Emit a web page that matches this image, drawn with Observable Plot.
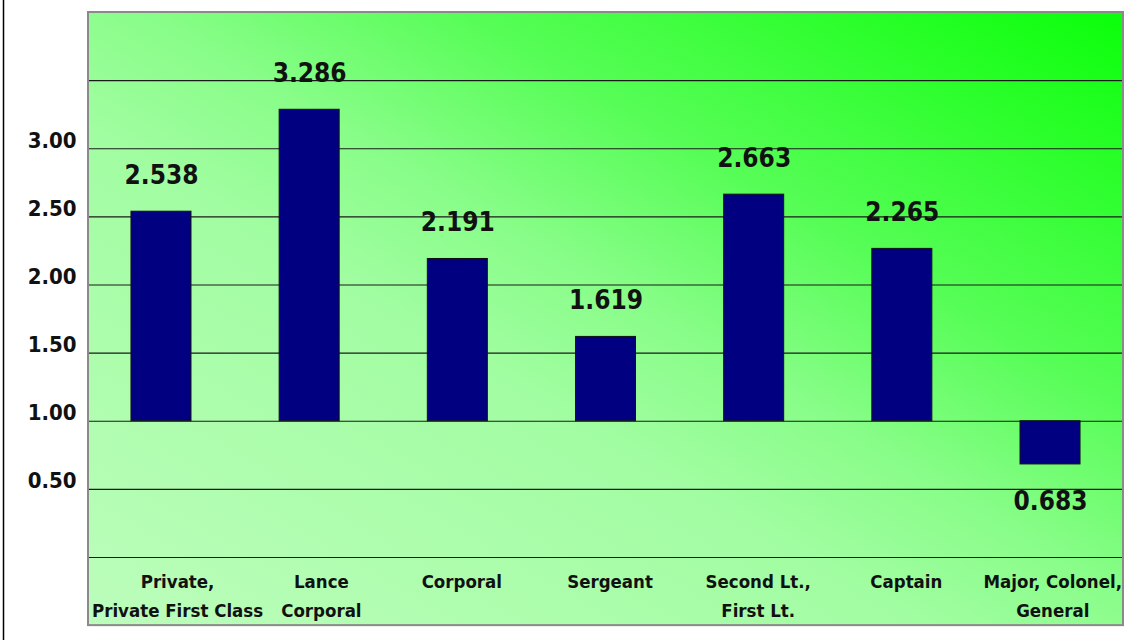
<!DOCTYPE html>
<html>
<head>
<meta charset="utf-8">
<script src="https://cdn.jsdelivr.net/npm/d3@7"></script>
<script src="https://cdn.jsdelivr.net/npm/@observablehq/plot@0.6"></script>
<style>
  html, body { margin: 0; padding: 0; background: #fff; }
  #chart svg { display: block; background: transparent; }
</style>
</head>
<body>
<div id="chart"></div>
<script>
const categories = [
  "Private,\nPrivate First Class",
  "Lance\nCorporal",
  "Corporal",
  "Sergeant",
  "Second Lt.,\nFirst Lt.",
  "Captain",
  "Major, Colonel,\nGeneral"
];
const values = [2.538, 3.286, 2.191, 1.619, 2.663, 2.265, 0.683];
const baseline = 1;
const yTicks = [0.5, 1, 1.5, 2, 2.5, 3];
const gridLines = [0.5, 1, 1.5, 2, 2.5, 3, 3.5];

const data = categories.map((c, i) => ({category: c, value: values[i]}));
const FONT = "'DejaVu Sans Condensed', 'DejaVu Sans', sans-serif";

function background(index, scales, values, dims) {
  const x0 = dims.marginLeft, x1 = dims.width - dims.marginRight;
  const yTop = scales.y(4), yBot = scales.y(-0.5);
  const g = d3.create("svg:g");
  const grad = g.append("defs").append("linearGradient")
    .attr("id", "bggrad").attr("x1", 0).attr("y1", 1).attr("x2", 1).attr("y2", 0);
  [[0, "#bcfdbc"], [0.4, "#a2fda2"], [0.53, "#88fd88"], [0.68, "#57fd57"], [1, "#0aff0a"]]
    .forEach(([o, c]) => grad.append("stop").attr("offset", o).attr("stop-color", c));
  g.append("rect").attr("x", x0).attr("y", yTop).attr("width", x1 - x0).attr("height", yBot - yTop)
    .attr("fill", "url(#bggrad)");
  return g.node();
}
function borders(index, scales, values, dims) {
  const x0 = dims.marginLeft, x1 = dims.width - dims.marginRight;
  const yTop = scales.y(4), yBot = scales.y(-0.5);
  const g = d3.create("svg:g");
  g.append("rect").attr("x", x0).attr("y", yTop).attr("width", x1 - x0).attr("height", yBot - yTop)
    .attr("fill", "none").attr("stroke", "#8a8a8a").attr("stroke-width", 2);
  g.append("line").attr("x1", 3.5).attr("x2", 3.5).attr("y1", 0).attr("y2", dims.height)
    .attr("stroke", "#000").attr("stroke-width", 1.5);
  return g.node();
}

const chart = Plot.plot({
  width: 1135,
  height: 640,
  marginLeft: 88,
  marginRight: 12,
  marginTop: 12,
  marginBottom: 83,
  style: {fontFamily: FONT, background: "transparent"},
  x: {domain: categories, paddingInner: 0.595, paddingOuter: 0.29, round: false, label: null},
  y: {domain: [0, 4], label: null},
  marks: [
    background,
    Plot.ruleY(gridLines, {stroke: "#1a1a1a", strokeWidth: 1.2}),
    Plot.ruleY([0], {stroke: "#1a1a1a", strokeWidth: 1.2}),
    Plot.barY(data, {x: "category", y1: () => baseline, y2: "value", fill: "#000080", stroke: "#111", strokeWidth: 1}),
    Plot.text(data.filter(d => d.value >= baseline), {x: "category", y: "value", text: d => d.value.toFixed(3),
      dy: -36, fontSize: 26, fontWeight: "bold", fill: "#111", style: "letter-spacing:1.5px"}),
    Plot.text(data.filter(d => d.value < baseline), {x: "category", y: "value", text: d => d.value.toFixed(3),
      dy: 37, fontSize: 26, fontWeight: "bold", fill: "#111", style: "letter-spacing:1.5px"}),
    Plot.axisY({ticks: yTicks, tickFormat: d3.format(".2f"), tickSize: 0, tickPadding: 12, dy: -8,
      fontSize: 22, fontWeight: "bold", fill: "#111"}),
    Plot.axisX({tickSize: 0, tickPadding: 11, dx: 4, fontSize: 18.5, fontWeight: "bold", lineHeight: 1.52, fill: "#111"}),
    borders
  ]
});
document.getElementById("chart").append(chart);

// Keep category labels inside the plot frame and apart from each other (as the original chart does)
try {
  const svgLeft = chart.getBoundingClientRect().left;
  const left = 88 + 4, right = 1135 - 12 - 1, gap = 18;
  let prevRight = -Infinity;
  chart.querySelectorAll('g[aria-label*="x-axis"] text').forEach(t => {
    const r = t.getBoundingClientRect();
    const x0 = r.left - svgLeft, x1 = r.right - svgLeft;
    let shift = 0;
    if (x0 < left) shift = left - x0;
    else if (x1 > right) shift = right - x1;
    if (x0 + shift < prevRight + gap) shift = prevRight + gap - x0;
    prevRight = x1 + shift;
    if (shift) t.setAttribute("transform", (t.getAttribute("transform") || "") + ` translate(${shift},0)`);
  });
} catch (e) { console.error(e); }
</script>
</body>
</html>
